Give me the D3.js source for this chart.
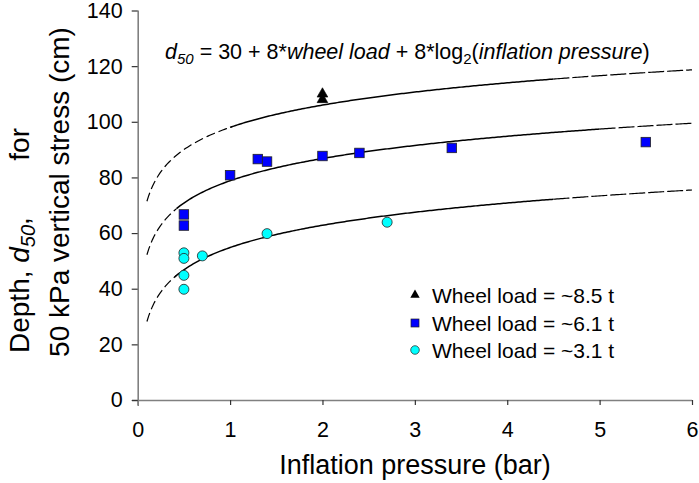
<!DOCTYPE html>
<html><head><meta charset="utf-8">
<script src="https://cdn.jsdelivr.net/npm/d3@7"></script>
<style>body{margin:0;background:#fff}svg{display:block}text{font-family:"Liberation Sans",Arial,sans-serif}</style>
</head><body><svg id="c" width="699" height="483"></svg>
<script>
// data
const xTicks = [0,1,2,3,4,5,6];
const yTicks = [0,20,40,60,80,100,120,140];
const load85X = [2.0, 2.0];
const load85Y = [110, 108];
const load61X = [0.5, 0.5, 1.0, 1.3, 1.4, 2.0, 2.4, 3.4, 5.5];
const load61Y = [66.7, 62.7, 80.8, 86.6, 85.7, 87.7, 88.8, 90.6, 92.7];
const load31X = [0.5, 0.5, 0.7, 0.5, 0.5, 1.4, 2.7];
const load31Y = [52.9, 50.9, 51.8, 44.8, 39.8, 59.8, 63.9];
const modelLoads = [8.5, 6.1, 3.1];
const modelConst = [30, 8, 8];          // d50 = a + b*load + c*log2(p)
const solidFrom = [1.0, 0.42, 0.40];
const solidTo = [4.5, 5.0, 4.5];
const legendLabels = ["Wheel load = ~8.5 t","Wheel load = ~6.1 t","Wheel load = ~3.1 t"];

const svg = d3.select("#c");
const x = d3.scaleLinear().domain([0,6]).range([137.7,692]);
const y = d3.scaleLinear().domain([0,140]).range([400,10.5]);
const axisColor = "#808080";

// axes
const gx = svg.append("g").attr("transform","translate(0,400)")
  .call(d3.axisBottom(x).tickValues(xTicks).tickSize(5).tickPadding(17).tickFormat(d3.format("d")));
const gy = svg.append("g").attr("transform","translate(137.7,0)")
  .call(d3.axisLeft(y).tickValues(yTicks).tickSize(6).tickPadding(9).tickFormat(d3.format("d")));
[gx,gy].forEach(g=>{
  g.select(".domain").attr("stroke",axisColor).attr("stroke-width",1.6);
  g.selectAll(".tick line").attr("stroke","#333").attr("stroke-width",1.2);
  g.selectAll(".tick text").attr("fill","#000").style("font-size","21.5px").style("font-family","Liberation Sans, Arial, sans-serif");
});
gx.select(".domain").attr("d","M132,0.5H692");
gy.select(".domain").attr("d","M0.5,406V10.5");

// model curves
const pGrid = d3.range(0.1, 6.0001, 0.02);
modelLoads.forEach((L,i)=>{
  const f = p => modelConst[0] + modelConst[1]*L + modelConst[2]*Math.log2(p);
  const line = d3.line().x(p=>x(p)).y(p=>y(f(p))).curve(d3.curveLinear);
  svg.append("path").attr("d",line(pGrid.filter(p=>p<=solidFrom[i]+0.02))).attr("fill","none")
    .attr("stroke","#000").attr("stroke-width",1.2).attr("stroke-dasharray","9,4");
  svg.append("path").attr("d",line(pGrid.filter(p=>p>=solidFrom[i]-0.001 && p<=solidTo[i]+0.01))).attr("fill","none")
    .attr("stroke","#000").attr("stroke-width",1.5);
  svg.append("path").attr("d",line(pGrid.filter(p=>p>=solidTo[i]-0.01))).attr("fill","none")
    .attr("stroke","#000").attr("stroke-width",1.2).attr("stroke-dasharray","16,3");
});

// markers
const tri = d3.symbol().type(d3.symbolTriangle);
svg.append("g").selectAll("path").data(load85X.map((v,i)=>[v,load85Y[i]])).join("path")
  .attr("transform",d=>`translate(${x(d[0])},${y(d[1])})`).attr("d",tri.size(50)())
  .attr("fill","#000").attr("stroke","#000").attr("stroke-width",0.6);
svg.append("g").selectAll("rect").data(load61X.map((v,i)=>[v,load61Y[i]])).join("rect")
  .attr("x",d=>x(d[0])-4.75).attr("y",d=>y(d[1])-4.75).attr("width",9.5).attr("height",9.5)
  .attr("fill","#0000ff").attr("stroke","#222").attr("stroke-width",0.8);
svg.append("g").selectAll("circle").data(load31X.map((v,i)=>[v,load31Y[i]])).join("circle")
  .attr("cx",d=>x(d[0])).attr("cy",d=>y(d[1])).attr("r",5)
  .attr("fill","#00ffff").attr("stroke","#222").attr("stroke-width",0.8);

// legend
const lg = svg.append("g");
const ly = [295, 323, 350];
lg.append("path").attr("transform",`translate(415,${ly[0]})`).attr("d",tri.size(38)()).attr("fill","#000");
lg.append("rect").attr("x",411).attr("y",ly[1]-4).attr("width",8).attr("height",8).attr("fill","#0000ff").attr("stroke","#222").attr("stroke-width",0.7);
lg.append("circle").attr("cx",415).attr("cy",ly[2]).attr("r",4.3).attr("fill","#00ffff").attr("stroke","#222").attr("stroke-width",0.7);
legendLabels.forEach((t,i)=>lg.append("text").attr("x",432).attr("y",ly[i]+7.5).style("font-size","21px").text(t));

// formula
const ft = svg.append("text").attr("x",165).attr("y",58.5).style("font-size","21.5px");
ft.append("tspan").style("font-style","italic").text("d");
ft.append("tspan").style("font-style","italic").style("font-size","15px").attr("dy",5).text("50");
ft.append("tspan").attr("dy",-5).text(" = 30 + 8*");
ft.append("tspan").style("font-style","italic").text("wheel load");
ft.append("tspan").text(" + 8*log");
ft.append("tspan").style("font-size","15px").attr("dy",5).text("2");
ft.append("tspan").attr("dy",-5).text("(");
ft.append("tspan").style("font-style","italic").text("inflation pressure");
ft.append("tspan").text(")");

// axis titles
svg.append("text").attr("x",415).attr("y",474).attr("text-anchor","middle").style("font-size","27px").text("Inflation pressure (bar)");
const t1 = svg.append("text").attr("transform","translate(29,353) rotate(-90)").attr("text-anchor","start").style("font-size","28px");
t1.append("tspan").text("Depth, ");
t1.append("tspan").style("font-style","italic").text("d");
t1.append("tspan").style("font-style","italic").style("font-size","20px").attr("dy",6).text("50");
t1.append("tspan").attr("dy",-6).text(",");
svg.append("text").attr("transform","translate(29,128) rotate(-90)").attr("text-anchor","end").style("font-size","28px").text("for");
svg.append("text").attr("transform","translate(69,192) rotate(-90)").attr("text-anchor","middle").style("font-size","28px").text("50 kPa vertical stress (cm)");
</script></body></html>
